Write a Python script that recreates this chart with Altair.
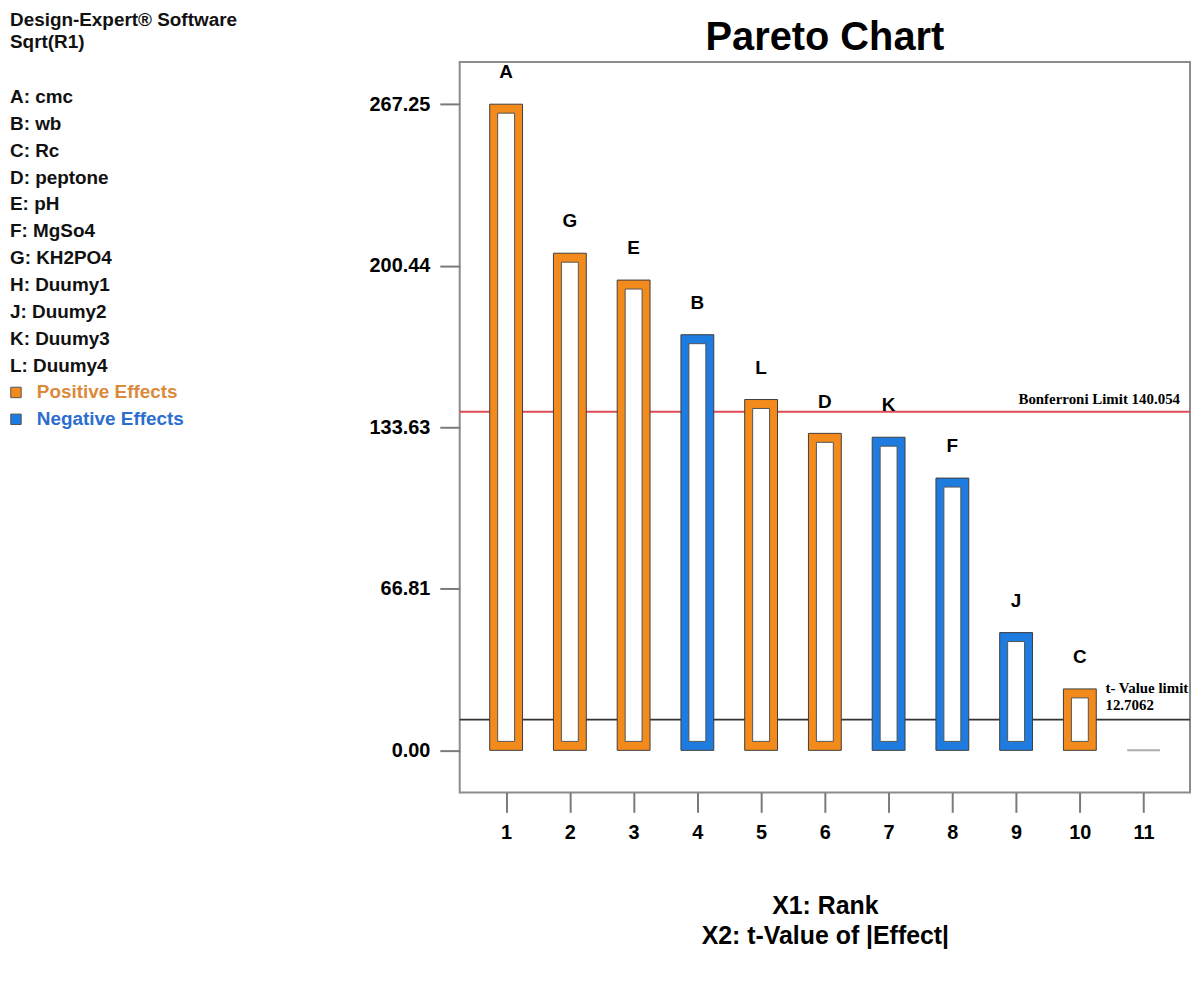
import altair as alt
import pandas as pd

# ---------------- data ----------------
ranks = [1, 2, 3, 4, 5, 6, 7, 8, 9, 10, 11]
factors = ["A", "G", "E", "B", "L", "D", "K", "F", "J", "C", "H"]
t_values = [267.25, 205.6, 194.5, 171.9, 145.1, 131.1, 129.5, 112.6, 48.7, 25.4, 0.0]
signs = ["Positive", "Positive", "Positive", "Negative", "Positive", "Positive",
         "Negative", "Negative", "Negative", "Positive", "None"]
y_ticks = [0.00, 66.81, 133.63, 200.44, 267.25]
bonferroni_limit = 140.054
t_value_limit = 12.7062

header_lines = ["Design-Expert\u00ae Software", "Sqrt(R1)"]
factor_names = ["A: cmc", "B: wb", "C: Rc", "D: peptone", "E: pH", "F: MgSo4",
                "G: KH2PO4", "H: Duumy1", "J: Duumy2", "K: Duumy3", "L: Duumy4"]
legend_labels = ["Positive Effects", "Negative Effects"]

ORANGE = "#F28A1C"
BLUE = "#1E7BE0"
FONT = "Liberation Sans"
SERIF = "Liberation Serif"

# ---------------- main chart ----------------
df = pd.DataFrame({"rank": ranks, "factor": factors, "t": t_values, "sign": signs})
bars_df = df[df["sign"] != "None"]
h_df = df[df["sign"] == "None"]

W, H = 734, 734

x_enc = alt.X(
    "rank:Q",
    scale=alt.Scale(domain=[0.35, 11.65], nice=False, zero=False),
    axis=alt.Axis(values=ranks, format="d", domain=False, grid=False,
                  tickSize=20, tickWidth=2, tickColor="#7a7a7a",
                  labelFont=FONT, labelFontSize=20, labelFontWeight="bold",
                  labelColor="black", labelPadding=10,
                  title=["X1: Rank", "X2: t-Value of |Effect|"],
                  titleFont=FONT, titleFontSize=25, titleFontWeight="bold",
                  titleColor="black", titlePadding=52, titleLineHeight=30),
)
y_enc = alt.Y(
    "t:Q",
    scale=alt.Scale(domain=[-17.4, 284.65], nice=False, zero=False),
    axis=alt.Axis(values=y_ticks, format=".2f", domain=False, grid=False,
                  tickSize=20, tickWidth=2, tickColor="#7a7a7a",
                  labelFont=FONT, labelFontSize=20, labelFontWeight="bold",
                  labelColor="black", labelPadding=10),
    title=None,
)

bon_df = pd.DataFrame({"t": [bonferroni_limit],
                       "label": [f"Bonferroni Limit {bonferroni_limit}"]})
tl_df = pd.DataFrame({"t": [t_value_limit],
                      "label": [f"t- Value limit\n{t_value_limit}"]})

rule_b = alt.Chart(bon_df).mark_rule(color="#DC4C55", strokeWidth=2).encode(y=y_enc)
rule_t = alt.Chart(tl_df).mark_rule(color="#333333", strokeWidth=2).encode(y=y_enc)

outer = alt.Chart(bars_df).mark_bar(size=33, stroke="#3d3d3d", strokeWidth=1).encode(
    x=x_enc, y=y_enc, y2=alt.datum(0),
    color=alt.Color("sign:N", scale=alt.Scale(domain=["Positive", "Negative"],
                                              range=[ORANGE, BLUE]), legend=None),
)
inner = alt.Chart(bars_df).mark_bar(size=17, color="white", stroke="#555555",
                                    strokeWidth=1, yOffset=9, y2Offset=-9).encode(
    x=x_enc, y=y_enc, y2=alt.datum(0)
)
h_mark = alt.Chart(h_df).mark_tick(orient="horizontal", size=33, thickness=2,
                                   color="#8a8a8a").encode(x=x_enc, y=y_enc)

labels = alt.Chart(bars_df).mark_text(dy=-32, baseline="middle", fontSize=19,
                                      fontWeight="bold", font=FONT,
                                      color="black").encode(
    x=x_enc, y=y_enc, text="factor:N"
)

text_b = alt.Chart(bon_df).mark_text(align="right", baseline="alphabetic", dy=-8,
                                     font=SERIF, fontSize=15, fontWeight="bold",
                                     color="black").encode(
    x=alt.value(724), y=y_enc, text="label:N"
)
text_t = alt.Chart(tl_df).mark_text(align="left", baseline="alphabetic", dy=-27,
                                    lineBreak="\n", lineHeight=17,
                                    font=SERIF, fontSize=15, fontWeight="bold",
                                    color="black").encode(
    x=alt.value(649), y=y_enc, text="label:N"
)

main = alt.layer(rule_b, rule_t, outer, inner, h_mark, labels, text_b, text_t).properties(
    width=W, height=H,
    title=alt.TitleParams("Pareto Chart", font=FONT, fontSize=40, fontWeight="bold",
                          color="black", anchor="middle", offset=4),
    view=alt.ViewBackground(stroke="#8c8c8c", strokeWidth=2),
)

# ---------------- left text panel ----------------
rows = []
header_rows = [-2.85, -2.05]
for s, r in zip(header_lines, header_rows):
    rows.append({"label": s, "row": r})
for i, s in enumerate(factor_names):
    rows.append({"label": s, "row": i})
text_df = pd.DataFrame(rows)
leg_df = pd.DataFrame({"label": legend_labels,
                       "row": [len(factor_names) + i for i in range(len(legend_labels))]})

step = 27
top_off = 35
left_y = alt.Y("row:Q", scale=alt.Scale(domain=[-top_off / step, (H - top_off) / step],
                                        reverse=True, nice=False, zero=False), axis=None)

txt = alt.Chart(text_df).mark_text(align="left", baseline="middle", font=FONT,
                                   fontSize=19, fontWeight="bold",
                                   color="#111111").encode(
    x=alt.value(0), y=left_y, text="label:N"
)
squares = alt.Chart(leg_df).mark_square(size=110, stroke="#555555", strokeWidth=1,
                                        opacity=1).encode(
    x=alt.value(6), y=left_y,
    fill=alt.Fill("label:N", scale=alt.Scale(domain=legend_labels,
                                             range=[ORANGE, BLUE]), legend=None),
)
leg_txt = alt.Chart(leg_df).mark_text(align="left", baseline="middle", font=FONT,
                                      fontSize=19, fontWeight="bold").encode(
    x=alt.value(27), y=left_y, text="label:N",
    color=alt.Color("label:N", scale=alt.Scale(domain=legend_labels,
                                               range=["#DB8A3C", "#2C6ED0"]), legend=None),
)
left = alt.layer(txt, squares, leg_txt).properties(
    width=300, height=H,
    view=alt.ViewBackground(stroke="transparent"),
)

chart = alt.hconcat(left, main, spacing=152, bounds="flush").resolve_scale(
    color="independent", fill="independent"
).properties(padding=0, background="white")

chart.save("out.html", embed_options={"renderer": "svg", "actions": False})
